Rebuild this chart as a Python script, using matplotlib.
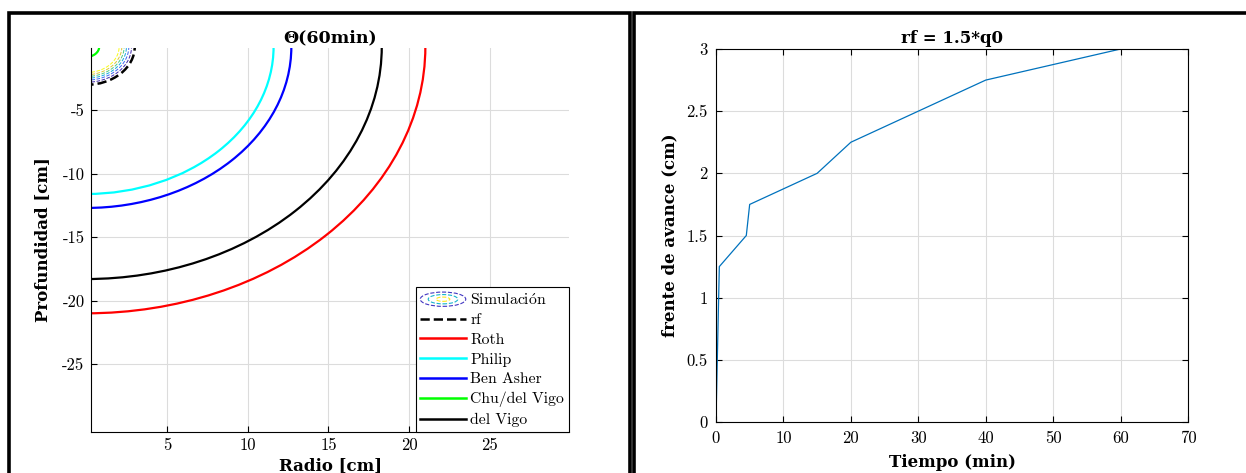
import numpy as np
import matplotlib
matplotlib.use('Agg')
import matplotlib.pyplot as plt
from matplotlib.patches import Arc, Ellipse, Rectangle
from matplotlib.lines import Line2D
from matplotlib.legend_handler import HandlerBase
from matplotlib.colors import LinearSegmentedColormap

plt.rcParams['font.family'] = ['cmr10', 'DejaVu Serif']
plt.rcParams['axes.unicode_minus'] = False
plt.rcParams['mathtext.fontset'] = 'cm'

# --- data, left panel: wetting-front radius (cm) at 60 min per model
model_names = ['Roth', 'Philip', 'Ben Asher', 'Chu/del Vigo', 'del Vigo']
model_radius = [21.0, 11.6, 12.7, 0.8, 18.3]
model_colors = ['#ff0000', '#00ffff', '#0000ff', '#00ff00', '#000000']
rf_radius = 3.0

# simulated moisture profile (theta vs distance from emitter, cm)
sim_dist = [0.0, 1.8, 2.0, 2.2, 2.4, 2.6, 2.8, 2.95, 5.0]
sim_theta = [0.45, 0.44, 0.40, 0.34, 0.27, 0.20, 0.14, 0.10, 0.10]
sim_levels = [0.14, 0.19, 0.24, 0.29, 0.34, 0.39]

# --- data, right panel: front advance vs time
t_min = [0, 0.5, 4.5, 5, 15, 20, 40, 60]
front_cm = [0, 1.25, 1.5, 1.75, 2.0, 2.25, 2.75, 3.0]

BOLD = dict(family='DejaVu Serif', fontweight='bold')

parula = LinearSegmentedColormap.from_list('parula', [
    (0.2422, 0.1504, 0.6603), (0.2810, 0.3228, 0.9579), (0.1786, 0.5289, 0.9682),
    (0.0689, 0.6948, 0.8394), (0.2161, 0.7843, 0.5923), (0.6720, 0.7793, 0.2227),
    (0.9970, 0.7659, 0.2199), (0.9769, 0.9839, 0.0805)])


class HandlerSim(HandlerBase):
    def create_artists(self, legend, orig_handle, xdescent, ydescent,
                       width, height, fontsize, trans):
        cx = width / 2 - xdescent
        cy = height / 2 - ydescent
        arts = []
        for f, c in [(1.0, parula(0.05)), (0.65, parula(0.45)), (0.3, parula(0.95))]:
            e = Ellipse((cx, cy), width * f, height * 1.3 * f, fill=False,
                        edgecolor=c, linestyle='--', linewidth=0.8, transform=trans)
            arts.append(e)
        return arts


fig = plt.figure(figsize=(12.46, 4.73), dpi=100)

# panel frames
for x0, w in [(9, 621), (634, 640)]:
    fig.patches.append(Rectangle((x0 / 1246, -0.2), w / 1246, 1.2 - 13 / 473,
                                 transform=fig.transFigure, fill=False,
                                 edgecolor='black', linewidth=2.6, zorder=10))

# left panel
ax1 = fig.add_axes([0.0734, 0.0867, 0.3833, 0.8118])
rr = np.linspace(0, 4, 300)
zz = np.linspace(-4, 0, 300)
R, Z = np.meshgrid(rr, zz)
field = np.interp(np.hypot(R, Z), sim_dist, sim_theta)
ax1.contour(R, Z, field, levels=sim_levels, cmap=parula, linestyles='--', linewidths=0.7)
ax1.add_patch(Arc((0, 0), 2 * rf_radius, 2 * rf_radius, theta1=180, theta2=360,
                  color='black', linestyle='--', linewidth=1.8))
for name, r, c in zip(model_names, model_radius, model_colors):
    ax1.add_patch(Arc((0, 0), 2 * r, 2 * r, theta1=180, theta2=360,
                      color=c, linewidth=1.6))
ax1.set_xlim(0.32, 29.9)
ax1.set_ylim(-30.35, -0.1)
ax1.set_xticks([5, 10, 15, 20, 25])
ax1.set_yticks([-25, -20, -15, -10, -5])
ax1.spines['top'].set_visible(False)
ax1.spines['right'].set_visible(False)
ax1.tick_params(direction='in', labelsize=12, length=4)
ax1.tick_params(axis='x', pad=4)
ax1.tick_params(axis='y', pad=5)
ax1.grid(True, color='#dcdcdc', linewidth=0.8)
ax1.set_axisbelow(True)
ax1.set_title('Θ(60min)', fontsize=12.5, pad=4, **BOLD)
ax1.set_xlabel('Radio [cm]', fontsize=12, labelpad=3, **BOLD)
ax1.set_ylabel('Profundidad [cm]', fontsize=12, labelpad=8, **BOLD)

handles = [Line2D([], [])]
handles.append(Line2D([], [], color='black', linestyle='--', linewidth=1.8))
for c in model_colors:
    handles.append(Line2D([], [], color=c, linewidth=1.8))
labels = [r'Simulaci$\acute{\mathrm{o}}$n', 'rf'] + model_names
leg = ax1.legend(handles, labels, loc='lower right', borderaxespad=0,
                 fontsize=11.3, handlelength=2.9, handletextpad=0.3,
                 labelspacing=0.36, fancybox=False, framealpha=1,
                 edgecolor='black', borderpad=0.3,
                 handler_map={handles[0]: HandlerSim()})
leg.get_frame().set_linewidth(0.8)

# right panel
ax2 = fig.add_axes([0.5746, 0.1078, 0.3789, 0.7886])
ax2.plot(t_min, front_cm, color=(0, 0.447, 0.741), linewidth=0.9)
ax2.set_xlim(0, 70)
ax2.set_ylim(0, 3)
ax2.set_xticks(range(0, 71, 10))
ax2.set_yticks([0, 0.5, 1, 1.5, 2, 2.5, 3])
ax2.set_yticklabels(['0', '0.5', '1', '1.5', '2', '2.5', '3'])
ax2.tick_params(direction='in', labelsize=12, length=4, top=True, right=True, pad=6)
ax2.grid(True, color='#dcdcdc', linewidth=0.8)
ax2.set_axisbelow(True)
ax2.set_title('rf = 1.5*q0', fontsize=12, pad=4, **BOLD)
ax2.set_xlabel('Tiempo (min)', fontsize=12, labelpad=6, **BOLD)
ax2.set_ylabel('frente de avance (cm)', fontsize=12, labelpad=6, **BOLD)

fig.savefig('out.png', dpi=100)
